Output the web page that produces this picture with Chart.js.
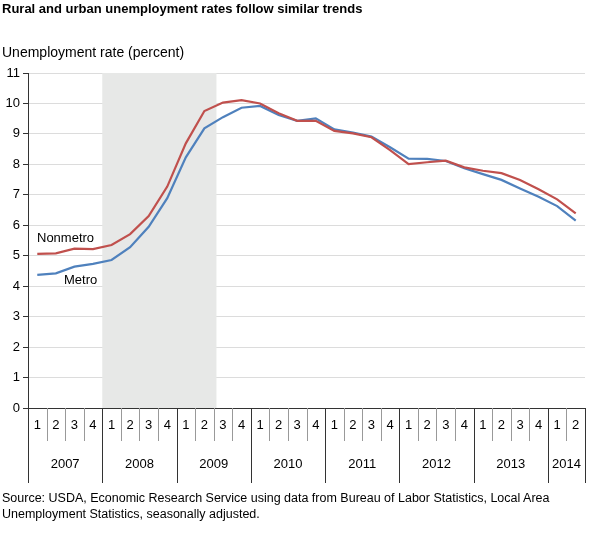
<!DOCTYPE html>
<html><head><meta charset="utf-8">
<script src="https://cdn.jsdelivr.net/npm/chart.js@4"></script>
<style>
body{margin:0;background:#fff;font-family:"Liberation Sans",Arial,sans-serif;}
#wrap{position:relative;width:589px;height:536px;}
.t{position:absolute;color:#000;white-space:nowrap;}
</style></head><body>
<div id="wrap">
<canvas id="c" width="589" height="536"></canvas>
<div class="t" style="left:2px;top:1px;font-weight:bold;font-size:13px;">Rural and urban unemployment rates follow similar trends</div>
<div class="t" style="left:2px;top:44px;font-size:14px;">Unemployment rate (percent)</div>
<div class="t" style="left:2px;top:490px;font-size:12.5px;line-height:16px;">Source: USDA, Economic Research Service using data from Bureau of Labor Statistics, Local Area<br>Unemployment Statistics, seasonally adjusted.</div>
</div>
<script>
const quarters=["1","2","3","4","1","2","3","4","1","2","3","4","1","2","3","4","1","2","3","4","1","2","3","4","1","2","3","4","1","2"];
const years=["2007","2008","2009","2010","2011","2012","2013","2014"];
const metro=[4.37,4.42,4.64,4.73,4.86,5.28,5.95,6.89,8.23,9.18,9.55,9.86,9.92,9.62,9.43,9.51,9.15,9.04,8.91,8.56,8.19,8.18,8.11,7.87,7.68,7.49,7.21,6.94,6.63,6.15];
const nonmetro=[5.06,5.08,5.23,5.22,5.35,5.71,6.30,7.27,8.69,9.75,10.03,10.11,10.00,9.68,9.43,9.43,9.10,9.02,8.89,8.47,8.01,8.07,8.12,7.90,7.79,7.71,7.49,7.18,6.85,6.39];
const recession=[4,10.15]; // category index range (start edge, end edge)
const yTicks=[0,1,2,3,4,5,6,7,8,9,10,11];

const extras={id:'extras',
beforeDatasetsDraw(ch){
  const {ctx,chartArea:a,scales:{x}}=ch;
  const w=x.getPixelForValue(1)-x.getPixelForValue(0);
  const x0=x.getPixelForValue(0)-w/2;
  ctx.save();ctx.fillStyle='#e7e8e7';
  ctx.fillRect(x0+recession[0]*w,a.top,(recession[1]-recession[0])*w,a.bottom-a.top);
  ctx.restore();
},
afterDraw(ch){
  const {ctx,chartArea:a,scales:{x,y}}=ch;
  const w=x.getPixelForValue(1)-x.getPixelForValue(0);
  const x0=x.getPixelForValue(0)-w/2;
  ctx.save();
  ctx.font='13px "Liberation Sans", Arial, sans-serif';ctx.fillStyle='#000';
  ctx.textAlign='center';ctx.textBaseline='middle';
  for(let i=0;i<=quarters.length;i++){
    const px=Math.round(x0+i*w)+0.5;
    const isYear=(i%4===0)||i===quarters.length;
    ctx.strokeStyle=isYear?'#333':'#999';ctx.lineWidth=1;
    ctx.beginPath();ctx.moveTo(px,a.bottom);ctx.lineTo(px,isYear?a.bottom+75:a.bottom+33);ctx.stroke();
    if(i<quarters.length) ctx.fillText(quarters[i],x0+(i+0.5)*w,a.bottom+17);
  }
  years.forEach((yr,k)=>{
    const s=k*4,e=Math.min(s+4,quarters.length);
    ctx.fillText(yr,x0+(s+e)/2*w,a.bottom+56);
  });
  ctx.textAlign='left';
  ctx.fillText('Nonmetro',37,y.getPixelForValue(5.58));
  ctx.fillText('Metro',64,y.getPixelForValue(4.18));
  ctx.restore();
}};

new Chart(document.getElementById('c'),{
 type:'line',
 data:{labels:quarters,datasets:[
  {label:'Nonmetro',data:nonmetro,borderColor:'#c0504d',borderWidth:2.2,pointRadius:0,tension:0},
  {label:'Metro',data:metro,borderColor:'#4f81bd',borderWidth:2.2,pointRadius:0,tension:0}
 ]},
 options:{responsive:false,animation:false,
  layout:{padding:{top:73,bottom:128,left:0,right:4}},
  plugins:{legend:{display:false},tooltip:{enabled:false}},
  scales:{
   x:{offset:true,ticks:{display:false},grid:{display:false},border:{color:'#333'},afterFit(s){s.height=0;}},
   y:{min:0,max:11,afterBuildTicks(s){s.ticks=yTicks.map(v=>({value:v}));},
      ticks:{color:'#000',font:{size:13,family:'"Liberation Sans", Arial, sans-serif'},padding:3},
      grid:{color:'#dcdcdc',tickColor:'#333',tickLength:5},border:{color:'#333'},
      afterFit(s){s.width=28;}}
  }},
 plugins:[extras]
});
</script></body></html>
